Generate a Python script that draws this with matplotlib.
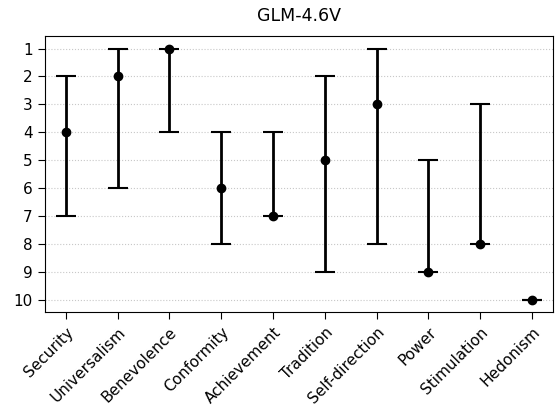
import numpy as np
import matplotlib
matplotlib.use("Agg")
import matplotlib.pyplot as plt

values = ["Security", "Universalism", "Benevolence", "Conformity", "Achievement",
          "Tradition", "Self-direction", "Power", "Stimulation", "Hedonism"]
rank = [4, 2, 1, 6, 7, 5, 3, 9, 8, 10]
rank_lo = [2, 1, 1, 4, 4, 2, 1, 5, 3, 10]
rank_hi = [7, 6, 4, 8, 7, 9, 8, 9, 8, 10]

plt.rcParams["font.size"] = 11

x = np.arange(len(values))
r = np.array(rank)
err = [r - np.array(rank_lo), np.array(rank_hi) - r]

fig = plt.figure(figsize=(5.55, 4.19), dpi=100)
ax = fig.add_axes([0.081, 0.255, 0.915, 0.659])
ax.errorbar(x, r, yerr=err, fmt="o", color="black", ecolor="black",
            elinewidth=2, capsize=7, capthick=1.5, markersize=6)
ax.set_xticks(x)
ax.set_xticklabels(values, rotation=45, ha="right", rotation_mode="anchor")
ax.set_yticks(range(1, 11))
ax.tick_params(length=5, pad=4)
ax.set_xlim(-0.4, 9.4)
ax.set_ylim(10.45, 0.55)
ax.yaxis.grid(True, linestyle=":", color="#c8c8c8")
ax.set_axisbelow(True)
ax.set_title("GLM-4.6V", fontsize=12.5, pad=11)
fig.savefig("out.png")
